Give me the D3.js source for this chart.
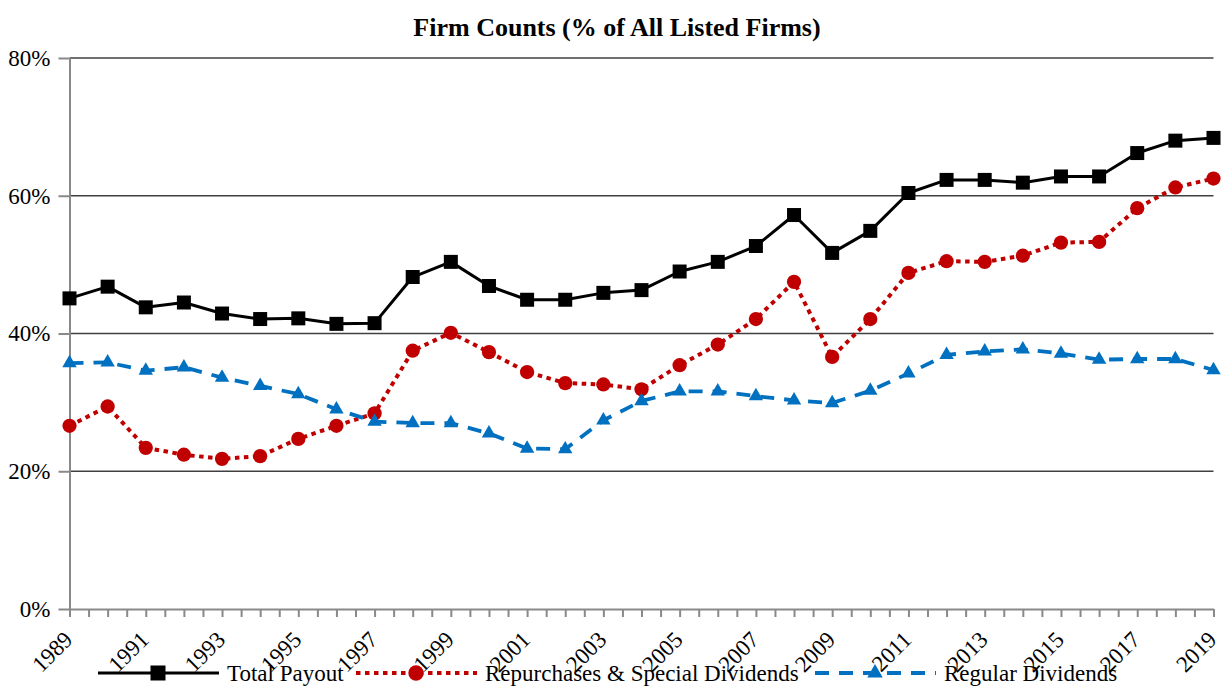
<!DOCTYPE html>
<html>
<head>
<meta charset="utf-8">
<script src="https://cdn.jsdelivr.net/npm/d3@7"></script>
<style>
  body { margin: 0; background: #fff; }
  svg { display: block; font-family: "Liberation Serif", "Times New Roman", serif; }
</style>
</head>
<body>
<svg id="chart" width="1225" height="687"></svg>
<script>
// data (share of listed firms)
const years = d3.range(1989, 2020);
const totalPayout = [45.1, 46.8, 43.8, 44.5, 42.9, 42.1, 42.2, 41.4, 41.5, 48.2, 50.4, 46.9, 44.9, 44.9, 45.9, 46.3,
  49.0, 50.4, 52.7, 57.2, 51.7, 54.9, 60.4, 62.3, 62.3, 61.9, 62.8, 62.8, 66.2, 68.0, 68.4];
const repurchases = [26.6, 29.4, 23.4, 22.4, 21.8, 22.2, 24.7, 26.6, 28.4, 37.5, 40.1, 37.3, 34.4, 32.8, 32.6, 31.9,
  35.4, 38.4, 42.1, 47.5, 36.6, 42.1, 48.8, 50.5, 50.4, 51.3, 53.2, 53.3, 58.2, 61.2, 62.5];
const regularDiv = [35.7, 35.8, 34.6, 35.1, 33.6, 32.4, 31.2, 29.0, 27.2, 27.0, 27.0, 25.5, 23.3, 23.2, 27.4, 30.2,
  31.6, 31.6, 30.9, 30.3, 29.9, 31.7, 34.2, 36.9, 37.4, 37.7, 37.1, 36.2, 36.3, 36.3, 34.7];
const yTicks = [0, 20, 40, 60, 80];
const xLabels = d3.range(1989, 2020, 2);

const series = [
  { name: 'Total Payout', values: totalPayout, color: '#000000', width: 3, dash: null, symbol: d3.symbolSquare, size: 196 },
  { name: 'Repurchases & Special Dividends', values: repurchases, color: '#C00000', width: 4, dash: '4.5 4.5', symbol: d3.symbolCircle, size: 160 },
  { name: 'Regular Dividends', values: regularDiv, color: '#0070C0', width: 3.8, dash: '14 10', symbol: d3.symbolTriangle, size: 90 }
];

const svg = d3.select('#chart');
const plotLeft = 69.5, plotRight = 1213.5, plotTop = 58, plotBottom = 609;

const x = d3.scaleLinear().domain([1989, 2019]).range([plotLeft, plotRight]);
const y = d3.scaleLinear().domain([0, 80]).range([plotBottom, plotTop]);

// title
svg.append('text')
  .attr('x', 617)
  .attr('y', 36)
  .attr('text-anchor', 'middle')
  .attr('font-weight', 'bold')
  .attr('font-size', '26px')
  .text('Firm Counts (% of All Listed Firms)');

// gridlines
svg.append('g')
  .selectAll('line')
  .data(yTicks.filter(d => d > 0))
  .join('line')
  .attr('x1', plotLeft).attr('x2', plotRight)
  .attr('y1', d => y(d)).attr('y2', d => y(d))
  .attr('stroke', '#404040')
  .attr('stroke-width', 1.3);

// y axis
const yAxis = svg.append('g')
  .attr('transform', `translate(${plotLeft},0)`)
  .call(d3.axisLeft(y).tickValues(yTicks).tickSize(11).tickSizeOuter(0).tickFormat(d => d + '%'));
yAxis.select('.domain').attr('stroke', '#898989').attr('stroke-width', 2);
yAxis.selectAll('.tick line').attr('stroke', '#898989').attr('stroke-width', 2);
yAxis.selectAll('.tick text')
  .attr('x', -19)
  .attr('dy', '0.32em')
  .attr('font-size', '23px')
  .attr('font-family', '"Liberation Serif", serif')
  .attr('fill', '#000');

// x axis, tick every half year, label every other year
const xAxis = svg.append('g')
  .attr('transform', `translate(0,${plotBottom})`)
  .call(d3.axisBottom(x)
    .tickValues(d3.range(1989, 2019.01, 0.5))
    .tickSize(8)
    .tickSizeOuter(0)
    .tickFormat(d => xLabels.includes(d) ? String(d) : ''));
xAxis.select('.domain').attr('stroke', '#898989').attr('stroke-width', 2);
xAxis.selectAll('.tick line').attr('stroke', '#898989').attr('stroke-width', 2);
xAxis.selectAll('.tick text')
  .attr('x', 0).attr('y', 0).attr('dy', 0)
  .attr('transform', 'translate(4,32) rotate(-45)')
  .attr('text-anchor', 'end')
  .attr('font-size', '23px')
  .attr('font-family', '"Liberation Serif", serif')
  .attr('fill', '#000');

// lines and markers
const line = d3.line().x((d, i) => x(years[i])).y(d => y(d));

series.forEach(s => {
  svg.append('path')
    .datum(s.values)
    .attr('fill', 'none')
    .attr('stroke', s.color)
    .attr('stroke-width', s.width)
    .attr('stroke-dasharray', s.dash)
    .attr('stroke-linejoin', 'round')
    .attr('d', line);

  svg.append('g')
    .selectAll('path')
    .data(s.values)
    .join('path')
    .attr('transform', (d, i) => `translate(${x(years[i])},${y(d)})`)
    .attr('d', d3.symbol(s.symbol, s.size))
    .attr('fill', s.color);
});

// legend
const legendX = [98, 356, 815];
const legend = svg.append('g');
series.forEach((s, i) => {
  const g = legend.append('g').attr('transform', `translate(${legendX[i]},673)`);
  g.append('line')
    .attr('x1', 0).attr('x2', 121)
    .attr('stroke', s.color)
    .attr('stroke-width', s.width)
    .attr('stroke-dasharray', s.dash);
  g.append('path')
    .attr('transform', 'translate(60,0)')
    .attr('d', d3.symbol(s.symbol, s.size * 1.15))
    .attr('fill', s.color);
  g.append('text')
    .attr('x', 129)
    .attr('y', 7.5)
    .attr('font-size', '23px')
    .text(s.name);
});
</script>
</body>
</html>
